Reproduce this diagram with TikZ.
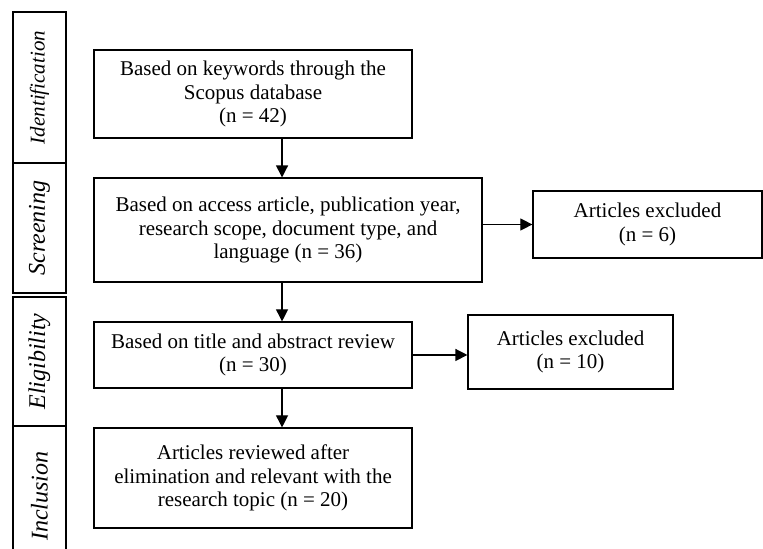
\documentclass[tikz,border=0pt]{standalone}
\usepackage{fontspec}
\setmainfont{Liberation Serif}
\usetikzlibrary{arrows.meta,positioning}

\begin{document}
\begin{tikzpicture}[
  stepbox/.style={draw=black, line width=0.6pt, align=center, inner sep=2pt, font=\fontsize{10.5}{11.6}\selectfont},
  phasebox/.style={draw=black, line width=0.8pt, rotate=90, minimum height=0.93cm, inner sep=0pt, font=\fontsize{12}{14}\selectfont\itshape},
  flowarrow/.style={-{Triangle[length=6pt,width=6pt]}, line width=0.6pt}
]
  \useasboundingbox (0,0) rectangle (13.41,9.649);

  % Phase strip
  \node[phasebox, minimum width=2.654cm, font=\fontsize{10.5}{12}\selectfont\itshape] (ident) at (0.694,8.111) {Identification};
  \node[phasebox, minimum width=2.285cm] (screen) at (0.694,5.642) {Screening};
  \node[phasebox, minimum width=2.267cm] (elig) at (0.694,3.295) {Eligibility};
  \node[phasebox, minimum width=2.461cm] (incl) at (0.694,0.931) {Inclusion};

  % Main steps
  \node[stepbox, minimum width=5.589cm, minimum height=1.547cm] (keywords) at (4.447,7.997) {Based on keywords through the\\Scopus database\\(n = 42)};
  \node[stepbox, minimum width=6.819cm, minimum height=1.828cm] (access) at (5.062,5.606) {Based on access article, publication year,\\research scope, document type, and\\language (n = 36)};
  \node[stepbox, minimum width=5.589cm, minimum height=1.160cm] (abstract) at (4.447,3.410) {Based on title and abstract review\\(n = 30)};
  \node[stepbox, minimum width=5.589cm, minimum height=1.758cm] (reviewed) at (4.447,1.248) {Articles reviewed after\\elimination and relevant with the\\research topic (n = 20)};

  % Excluded boxes
  \node[stepbox, minimum width=4.025cm, minimum height=1.178cm] (excludedA) at (11.380,5.703) {Articles excluded\\(n = 6)};
  \node[stepbox, minimum width=3.603cm, minimum height=1.301cm] (excludedB) at (10.027,3.462) {Articles excluded\\(n = 10)};

  % Arrows
  \draw[flowarrow] ([xshift=0.51cm]keywords.south) -- ([xshift=-0.105cm]access.north);
  \draw[flowarrow] ([xshift=-0.105cm]access.south) -- ([xshift=0.51cm]abstract.north);
  \draw[flowarrow] ([xshift=0.51cm]abstract.south) -- ([xshift=0.51cm]reviewed.north);
  \draw[flowarrow] (access.east |- excludedA.west) -- (excludedA.west);
  \draw[flowarrow] (abstract.east) -- (abstract.east -| excludedB.west);
\end{tikzpicture}
\end{document}
